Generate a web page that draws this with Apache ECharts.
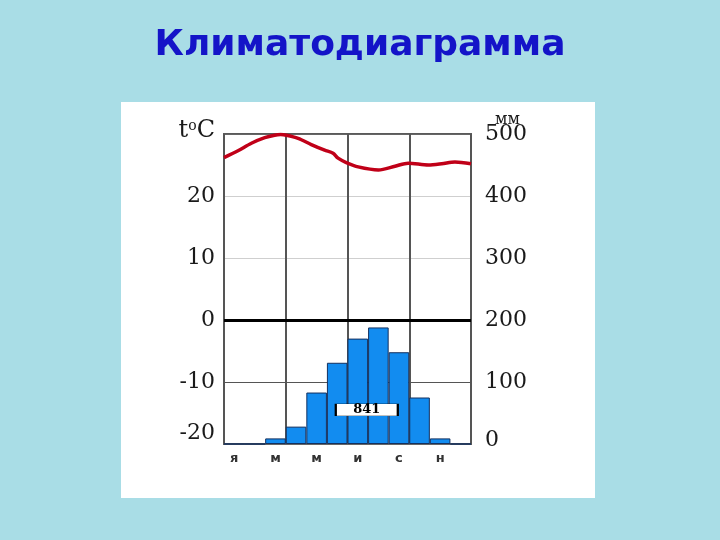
<!DOCTYPE html>
<html>
<head>
<meta charset="utf-8">
<script src="https://cdn.jsdelivr.net/npm/echarts@6/dist/echarts.min.js"></script>
<style>
html,body{margin:0;padding:0;background:#a9dde6;}
#chart{width:720px;height:540px;}
</style>
</head>
<body>
<div id="chart"></div>
<script>
// ---- data ----
var titleText = 'Климатодиаграмма';
var months = ['я','ф','м','а','м','и','и','а','с','о','н','д'];
var precipitation = [0, 0, 9, 28, 83, 131, 170, 188, 148, 75, 9, 0];   // мм
var annualTotal = '841';
// temperature curve, sampled along the year (position in months from the start, °C)
var tempPos = [0, 0.68, 1.33, 1.98, 2.46, 2.75, 3.03, 3.6, 4.24, 4.89, 5.3, 5.54, 5.94, 6.52, 7.5, 8.31, 8.95, 9.93, 10.58, 11.22, 12];
var tempVal = [26.2, 27.3, 28.5, 29.4, 29.8, 29.9, 29.8, 29.3, 28.3, 27.4, 26.9, 26.1, 25.4, 24.7, 24.2, 24.8, 25.3, 25.0, 25.2, 25.5, 25.2];
var tempTicks = {min: -20, max: 30, step: 10};
var precTicks = {min: 0, max: 500, step: 100};
var precUnit = 'мм';

var tempSeries = tempPos.map(function (p, i) { return [p, tempVal[i]]; });

var chart = echarts.init(document.getElementById('chart'), null, {renderer: 'canvas'});
var serif = 'DejaVu Serif';
var labelSize = 22;
chart.setOption({
  animation: false,
  backgroundColor: '#a9dde6',
  title: {
    text: titleText,
    left: 'center',
    top: 23,
    textStyle: {fontFamily: 'DejaVu Sans', fontWeight: 'bold', fontSize: 36, color: '#1414c8'}
  },
  graphic: {
    elements: [{
      type: 'rect', z: -100, silent: true,
      shape: {x: 121, y: 102, width: 474, height: 396},
      style: {fill: '#ffffff'}
    }]
  },
  grid: {
    left: 224, right: 249, top: 134, bottom: 96,
    show: true, borderColor: '#5a5a5a', borderWidth: 2, backgroundColor: 'transparent'
  },
  xAxis: [{
    type: 'category',
    data: months,
    boundaryGap: true,
    axisLine: {show: false},
    axisTick: {show: false},
    axisLabel: {interval: 1, margin: 8, fontFamily: 'DejaVu Sans', fontWeight: 'bold', fontSize: 13, color: '#333'},
    splitLine: {show: true, interval: 2, lineStyle: {color: '#555', width: 2}}
  }, {
    type: 'value', min: 0, max: 12, show: false
  }],
  yAxis: [{
    type: 'value',
    position: 'left',
    min: tempTicks.min, max: tempTicks.max, interval: tempTicks.step,
    axisLine: {show: false}, axisTick: {show: false}, splitLine: {show: false},
    axisLabel: {
      margin: 9, fontFamily: serif, fontSize: labelSize, color: '#1a1a1a',
      formatter: function (v) {
        if (v === tempTicks.max) return '{t|t}{o|o}{t|C}';
        if (v === tempTicks.min) return '{lo|' + v + '}';
        return String(v);
      },
      rich: {
        t: {fontFamily: serif, fontSize: 24, color: '#1a1a1a', padding: [0, 0, 6, 0]},
        o: {fontFamily: serif, fontSize: 14, color: '#1a1a1a', verticalAlign: 'top', padding: [0, 0, 14, 0]},
        lo: {fontFamily: serif, fontSize: labelSize, color: '#1a1a1a', padding: [0, 0, 22, 0]}
      }
    }
  }, {
    type: 'value',
    position: 'right',
    min: precTicks.min, max: precTicks.max, interval: precTicks.step,
    name: precUnit,
    nameLocation: 'end',
    nameGap: 14,
    nameMoveOverlap: false,
    nameTextStyle: {fontFamily: serif, fontSize: 16, color: '#1a1a1a', align: 'left', verticalAlign: 'middle', padding: [0, 0, 0, 24]},
    axisLine: {show: false}, axisTick: {show: false},
    splitLine: {show: true, lineStyle: {color: ['#666', '#555', '#000', '#cfcfcf', '#cfcfcf', '#666'], width: 1}},
    axisLabel: {
      margin: 14, fontFamily: serif, fontSize: labelSize, color: '#1a1a1a',
      formatter: function (v) {
        if (v === precTicks.min) return '{lo|' + v + '}';
        return String(v);
      },
      rich: {
        lo: {fontFamily: serif, fontSize: labelSize, color: '#1a1a1a', padding: [0, 0, 8, 0]}
      }
    }
  }],
  series: [{
    type: 'bar',
    xAxisIndex: 0, yAxisIndex: 1,
    data: precipitation,
    barCategoryGap: 0,
    itemStyle: {color: '#128cf0', borderColor: '#14305e', borderWidth: 1},
    markLine: {
      silent: true, symbol: 'none', label: {show: false},
      lineStyle: {color: '#000', width: 3, type: 'solid'},
      data: [{yAxis: 200}]
    },
    markPoint: {
      silent: true,
      symbol: 'rect',
      symbolSize: [62, 12],
      symbolOffset: [9, 0],
      itemStyle: {color: '#fff', borderColor: '#000', borderWidth: 1},
      label: {show: true, position: 'inside', formatter: annualTotal, fontFamily: serif, fontWeight: 'bold', fontSize: 13, color: '#000'},
      data: [{coord: [6, 55]}]
    }
  }, {
    type: 'line',
    xAxisIndex: 1, yAxisIndex: 0,
    data: tempSeries,
    smooth: 0.3,
    showSymbol: false,
    lineStyle: {color: '#c00018', width: 3.5}
  }]
});
</script>
</body>
</html>
